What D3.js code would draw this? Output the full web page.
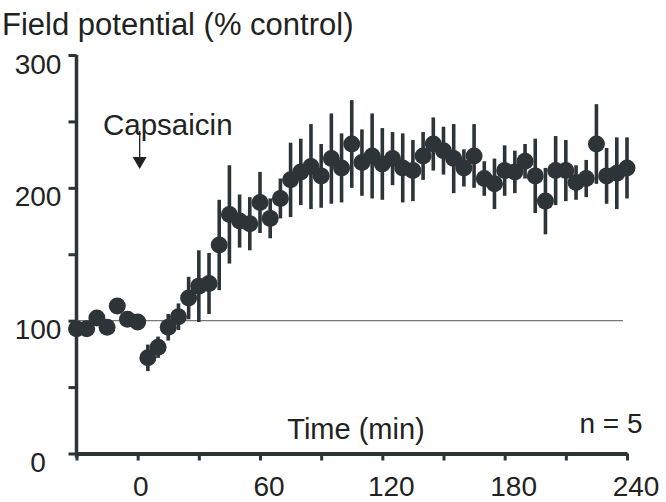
<!DOCTYPE html>
<html>
<head>
<meta charset="utf-8">
<script src="https://cdn.jsdelivr.net/npm/d3@7"></script>
<style>
    body { margin: 0; background: #fff; }
    svg { display: block; }
    text { font-family: "Liberation Sans", Arial, sans-serif; fill: #222; }
</style>
</head>
<body>
<svg width="666" height="502"></svg>
<script>
// time points (min), mean field potential (% control) and SEM
var times = [-30, -25, -20, -15, -10, -5, 0,
    5, 10, 15, 20, 25, 30, 35, 40, 45, 50, 55, 60, 65, 70, 75, 80, 85, 90,
    95, 100, 105, 110, 115, 120, 125, 130, 135, 140, 145, 150, 155, 160, 165,
    170, 175, 180, 185, 190, 195, 200, 205, 210, 215, 220, 225, 230, 235, 240];
var means = [94, 94, 102, 95, 111, 101, 99,
    72, 80, 95, 103, 117, 126, 128, 157, 180, 175, 173, 189, 177, 192, 206, 212, 216, 209,
    222, 215, 233, 219, 224, 218, 222, 215, 213, 224, 233, 228, 222, 215, 224,
    207, 203, 213, 212, 220, 209, 190, 213, 213, 204, 207, 233, 209, 211, 215];
var sems = [3, 3, 4, 5, 3, 4, 4,
    10, 8, 10, 10, 16, 27, 23, 34, 37, 20, 20, 23, 15, 15, 28, 25, 32, 24,
    34, 26, 33, 25, 32, 27, 20, 26, 23, 18, 20, 18, 26, 14, 24,
    13, 19, 19, 16, 13, 28, 25, 26, 23, 13, 14, 30, 21, 27, 23];

var xTicks = [-30, 0, 30, 60, 90, 120, 150, 180, 210, 240];
var xLabels = [0, 60, 120, 180, 240];
var yTicks = [0, 50, 100, 150, 200, 250, 300];
var yLabels = [0, 100, 200, 300];

var dark = "#2d3437";

var svg = d3.select("svg");

var x = d3.scaleLinear().domain([-30, 240]).range([76.5, 627]);
var y = d3.scaleLinear().domain([0, 300]).range([453.5, 55]);

// x axis
var xAxis = svg.append("g")
    .attr("transform", "translate(0," + y(0) + ")")
    .call(d3.axisBottom(x).tickValues(xTicks).tickSize(7).tickSizeOuter(0).tickFormat(""));
xAxis.select(".domain").attr("stroke", dark).attr("stroke-width", 3.8);
xAxis.selectAll(".tick line").attr("stroke", dark).attr("stroke-width", 3);

xLabels.forEach(function(d) {
    svg.append("text")
        .attr("x", x(d) + (d === 0 ? 3 : 9))
        .attr("y", 496)
        .attr("text-anchor", "middle")
        .attr("font-size", "28px")
        .text(d);
});

// y axis
var yAxis = svg.append("g")
    .attr("transform", "translate(" + x(-30) + ",0)")
    .call(d3.axisLeft(y).tickValues(yTicks).tickSize(8).tickSizeOuter(0).tickFormat(""));
yAxis.select(".domain").attr("stroke", dark).attr("stroke-width", 3.5)
    .attr("d", "M0," + (y(0) + 4) + "V" + y(300));
yAxis.selectAll(".tick line").attr("stroke", dark).attr("stroke-width", 3);

yLabels.forEach(function(d) {
    svg.append("text")
        .attr("x", 38)
        .attr("y", y(d) + 18.5)
        .attr("text-anchor", "middle")
        .attr("font-size", "28px")
        .text(d);
});

// control level
svg.append("line")
    .attr("x1", x(-30)).attr("x2", x(238))
    .attr("y1", y(100)).attr("y2", y(100))
    .attr("stroke", "#777").attr("stroke-width", 1.3);

var data = times.map(function(t, i) { return {t: t, m: means[i], e: sems[i]}; });

// error bars
svg.append("g").selectAll("line")
    .data(data)
    .enter()
    .append("line")
    .attr("x1", function(d) { return x(d.t); })
    .attr("x2", function(d) { return x(d.t); })
    .attr("y1", function(d) { return y(d.m - d.e); })
    .attr("y2", function(d) { return y(d.m + d.e); })
    .attr("stroke", dark)
    .attr("stroke-width", 3.6);

// means
svg.append("g").selectAll("circle")
    .data(data)
    .enter()
    .append("circle")
    .attr("cx", function(d) { return x(d.t); })
    .attr("cy", function(d) { return y(d.m); })
    .attr("r", 8.5)
    .attr("fill", dark);

// labels
svg.append("text")
    .attr("x", 2).attr("y", 35)
    .attr("font-size", "31px")
    .text("Field potential (% control)");

svg.append("text")
    .attr("x", 103).attr("y", 135)
    .attr("font-size", "29.5px")
    .text("Capsaicin");

var ax = x(0) + 2;
svg.append("line")
    .attr("x1", ax).attr("x2", ax)
    .attr("y1", 131).attr("y2", 158)
    .attr("stroke", "#222").attr("stroke-width", 1.3);
svg.append("path")
    .attr("d", "M" + (ax - 7) + ",157L" + (ax + 7) + ",157L" + ax + ",169Z")
    .attr("fill", "#222");

svg.append("text")
    .attr("x", 356).attr("y", 439)
    .attr("text-anchor", "middle")
    .attr("font-size", "29px")
    .text("Time (min)");

svg.append("text")
    .attr("x", 611).attr("y", 433)
    .attr("text-anchor", "middle")
    .attr("font-size", "28px")
    .text("n = 5");
</script>
</body>
</html>
